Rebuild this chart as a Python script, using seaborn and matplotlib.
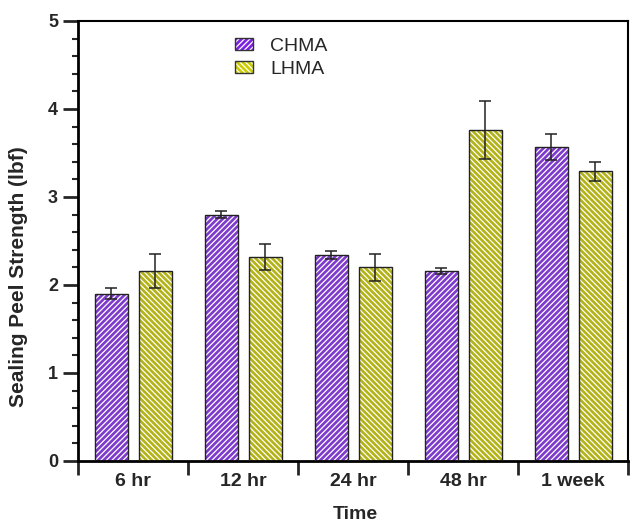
import numpy as np
import pandas as pd
import matplotlib
matplotlib.use('Agg')
from matplotlib import pyplot as plt
import matplotlib.patches as mpatches
from matplotlib.legend_handler import HandlerTuple
from matplotlib.ticker import MultipleLocator, FixedLocator
import seaborn as sns

# data
times = ['6 hr', '12 hr', '24 hr', '48 hr', '1 week']
groups = ['CHMA', 'LHMA']
chma_mean = [1.90, 2.80, 2.34, 2.16, 3.57]
chma_err = [0.06, 0.04, 0.05, 0.03, 0.15]
lhma_mean = [2.16, 2.32, 2.20, 3.76, 3.29]
lhma_err = [0.19, 0.15, 0.15, 0.33, 0.11]

colors = {'CHMA': '#7b22e3', 'LHMA': '#cccc00'}
hatches = {'CHMA': '//////', 'LHMA': '\\\\\\\\\\\\'}

df = pd.DataFrame({
    'Time': times * 2,
    'group': ['CHMA'] * len(times) + ['LHMA'] * len(times),
    'value': chma_mean + lhma_mean,
})
errs = {'CHMA': chma_err, 'LHMA': lhma_err}

sns.set_style('ticks')
plt.rcParams['font.family'] = ['Liberation Sans', 'DejaVu Sans']
plt.rcParams['hatch.linewidth'] = 0.9

fig = plt.figure(figsize=(6.3, 5.25), dpi=100)
ax = fig.add_axes([0.124, 0.122, 0.873, 0.838])

sns.barplot(data=df, x='Time', y='value', hue='group', order=times,
            hue_order=groups, palette=colors, errorbar=None, gap=0.25,
            width=0.8, legend=False, ax=ax)

# hatch in white, then a black outline on top
for g, cont in zip(groups, ax.containers):
    xs, ys = [], []
    for p in cont.patches:
        p.set_edgecolor('white')
        p.set_linewidth(0)
        p.set_hatch(hatches[g])
        ax.add_patch(mpatches.Rectangle(p.get_xy(), p.get_width(), p.get_height(),
                                        fill=False, edgecolor='#222222', lw=1.0, zorder=3))
        xs.append(p.get_x() + p.get_width() / 2)
        ys.append(p.get_height())
    ax.errorbar(xs, ys, yerr=errs[g], fmt='none', ecolor='#222222',
                elinewidth=1.1, capsize=4.3, capthick=1.1, zorder=4)

ax.set_xlim(-0.5, 4.5)
ax.set_ylim(0, 5)
ax.yaxis.set_major_locator(MultipleLocator(1))
ax.yaxis.set_minor_locator(MultipleLocator(0.2))
ax.xaxis.set_minor_locator(FixedLocator(np.arange(-0.5, 5, 1)))

for s in ax.spines.values():
    s.set_visible(True)
    s.set_linewidth(1.5)
    s.set_color('black')
ax.spines['left'].set_linewidth(2)
ax.spines['bottom'].set_linewidth(2)

ax.tick_params(axis='y', which='major', direction='out', length=10.5, width=2, pad=4)
ax.tick_params(axis='y', which='minor', direction='out', length=4.5, width=1.5)
ax.tick_params(axis='x', which='major', length=0, pad=8.5)
ax.tick_params(axis='x', which='minor', direction='out', length=10, width=2)
for lab in ax.get_xticklabels():
    lab.set_fontsize(14)
    lab.set_fontweight('bold')
for lab in ax.get_yticklabels():
    lab.set_fontsize(13)
    lab.set_fontweight('bold')

ax.set_xlabel('Time', fontsize=14, fontweight='bold')
ax.set_ylabel('Sealing Peel Strength (lbf)', fontsize=15, fontweight='bold')
ax.xaxis.set_label_coords(0.504, -0.103)
ax.yaxis.set_label_coords(-0.092, 0.42)

handles = []
for g in groups:
    fillp = mpatches.Patch(facecolor=colors[g], edgecolor='white', lw=0, hatch=hatches[g])
    edgep = mpatches.Patch(fill=False, edgecolor='#333333', lw=1.0)
    handles.append((fillp, edgep))
ax.legend(handles, groups, handler_map={tuple: HandlerTuple(ndivide=1, pad=0)},
          frameon=False, fontsize=14, loc='upper left',
          bbox_to_anchor=(235 / 630, 1 - 38 / 525), bbox_transform=fig.transFigure,
          handlelength=0.93, handleheight=0.57, handletextpad=0.87,
          labelspacing=0.3, borderpad=0, borderaxespad=0)

fig.savefig('out.png', dpi=100)
